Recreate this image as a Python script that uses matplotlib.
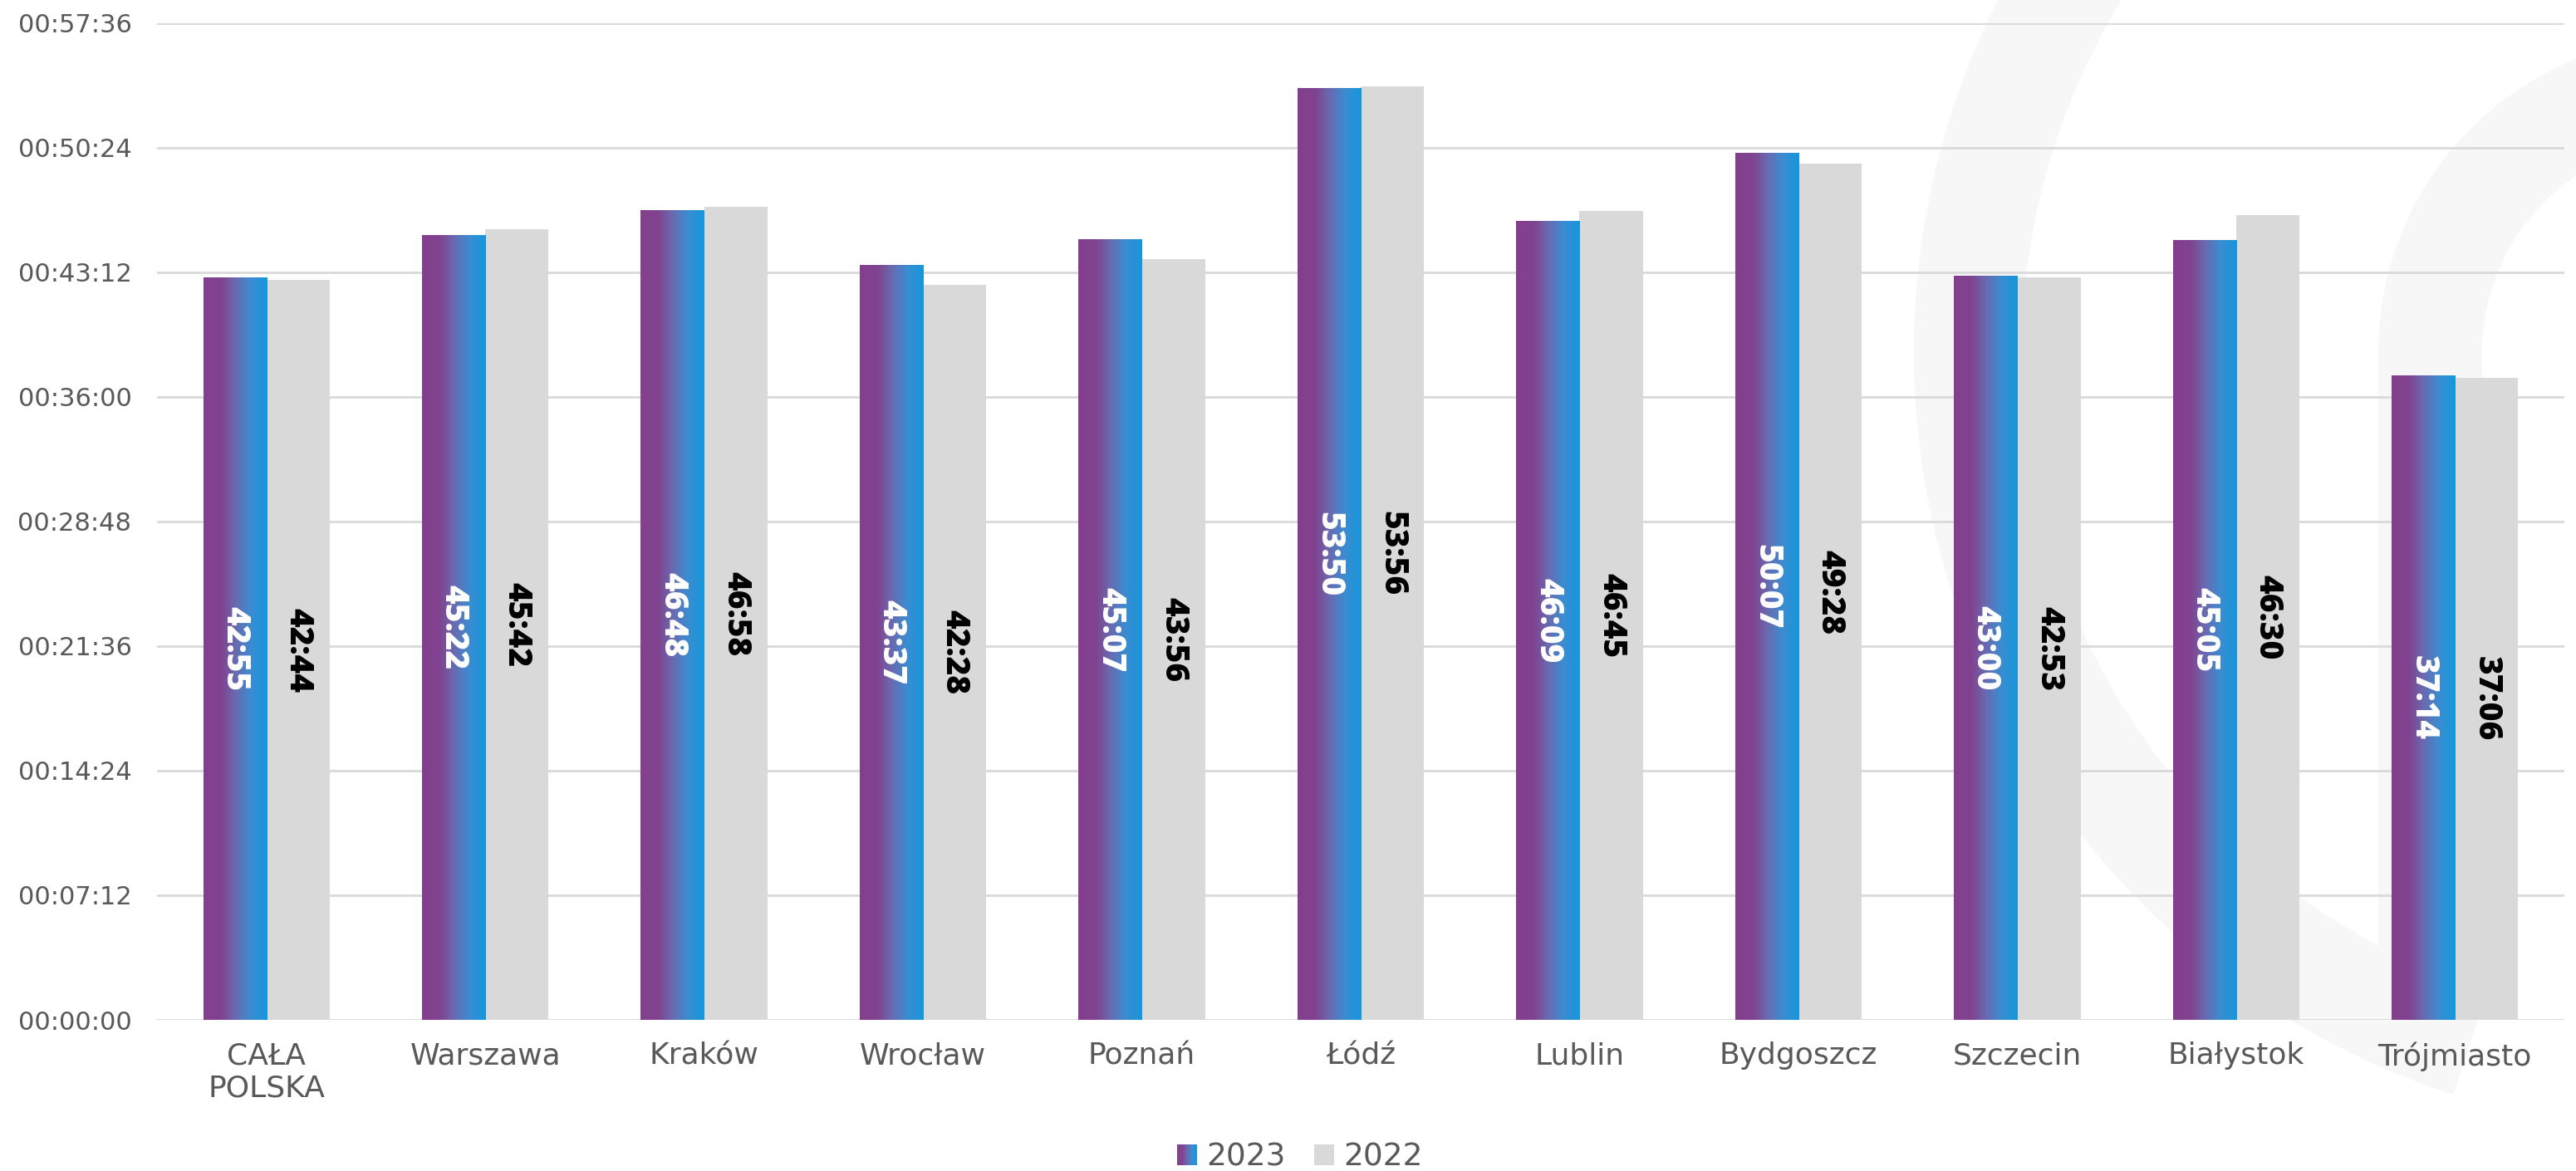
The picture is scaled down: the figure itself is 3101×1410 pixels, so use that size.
import matplotlib

matplotlib.use("Agg")

import matplotlib.pyplot as plt
import numpy as np
from matplotlib.colors import LinearSegmentedColormap
from matplotlib.legend_handler import HandlerBase
from matplotlib.patches import Rectangle, Wedge
from matplotlib.ticker import FixedLocator, FuncFormatter

plt.rcParams["font.family"] = ["DejaVu Sans"]

cities = [
    "CAŁA\nPOLSKA", "Warszawa", "Kraków", "Wrocław", "Poznań", "Łódź",
    "Lublin", "Bydgoszcz", "Szczecin", "Białystok", "Trójmiasto",
]
times_2023 = ["42:55", "45:22", "46:48", "43:37", "45:07", "53:50",
              "46:09", "50:07", "43:00", "45:05", "37:14"]
times_2022 = ["42:44", "45:42", "46:58", "42:28", "43:56", "53:56",
              "46:45", "49:28", "42:53", "46:30", "37:06"]
series_names = ["2023", "2022"]

GRAD_COLORS = [(0.0, "#843F8E"), (0.28, "#80438F"), (0.5, "#6A6AB0"),
               (0.75, "#3A8DD2"), (1.0, "#1597DB")]
GREY_BAR = "#D9D9D9"
TEXT_GREY = "#595959"
GRID = "#D9D9D9"
RING = "#F7F7F7"

grad_cmap = LinearSegmentedColormap.from_list("purple_blue", GRAD_COLORS)


def to_seconds(mmss):
    m, s = mmss.split(":")
    return int(m) * 60 + int(s)


def fmt_hms(value, _pos=None):
    value = int(round(value))
    return f"{value // 3600:02d}:{value % 3600 // 60:02d}:{value % 60:02d}"


def fmt_ms(value):
    value = int(round(value))
    return f"{value // 60:02d}:{value % 60:02d}"


class GradientHandler(HandlerBase):
    def create_artists(self, legend, orig_handle, xdescent, ydescent,
                       width, height, fontsize, trans):
        n = 24
        step = width / n
        parts = []
        for k in range(n):
            r = Rectangle((-xdescent + k * step, -ydescent), step * 1.05, height,
                          facecolor=grad_cmap((k + 0.5) / n), edgecolor="none",
                          transform=trans)
            parts.append(r)
        return parts


vals_2023 = np.array([to_seconds(t) for t in times_2023])
vals_2022 = np.array([to_seconds(t) for t in times_2022])
x = np.arange(len(cities))
bar_w = 0.289

W, H = 3101, 1410
fig = plt.figure(figsize=(W / 100, H / 100), dpi=100)
fig.patch.set_facecolor("white")

# pale logo rings behind the plot (pixel coordinates, origin bottom-left)
ring_cx, ring_cy = 3244, H - 424
fig.patches.append(Wedge((ring_cx, ring_cy), 940, 105, 252, width=130,
                         facecolor=RING, edgecolor="none", transform=None, zorder=-2))
fig.patches.append(Wedge((ring_cx, ring_cy), 381, 95, 180, width=125,
                         facecolor=RING, edgecolor="none", transform=None, zorder=-2))
fig.patches.append(Rectangle((2863, H - 1200), 125, 1200 - 424, facecolor=RING,
                             edgecolor="none", transform=None, zorder=-2))

ax = fig.add_axes([189 / W, 1 - 1228 / H, (3087 - 189) / W, (1228 - 27.7) / H])
ax.set_facecolor("none")
ax.set_zorder(1)

bars_a = ax.bar(x - bar_w / 2, vals_2023, width=bar_w, facecolor="none",
                edgecolor="none", zorder=3, label=series_names[0])
bars_b = ax.bar(x + bar_w / 2, vals_2022, width=bar_w, color=GREY_BAR,
                edgecolor="none", zorder=3, label=series_names[1])

gradient = np.linspace(0, 1, 256).reshape(1, -1)
for bar in bars_a:
    x0 = bar.get_x()
    img = ax.imshow(gradient, cmap=grad_cmap, aspect="auto", zorder=3,
                    extent=[x0, x0 + bar.get_width(), 0, bar.get_height()],
                    interpolation="bicubic")
    img.set_clip_path(bar)

label_font = dict(fontsize=28, fontweight=800, rotation=270,
                  ha="center", va="center", zorder=5, family=["Open Sans", "DejaVu Sans"])
for bar, v in zip(bars_a, vals_2023):
    ax.text(bar.get_x() + bar.get_width() / 2, v / 2, fmt_ms(v), color="white", **label_font)
for bar, v in zip(bars_b, vals_2022):
    ax.text(bar.get_x() + bar.get_width() / 2, v / 2, fmt_ms(v), color="black", **label_font)

ax.set_xlim(-0.5, len(cities) - 0.5)
ax.set_ylim(0, 3456)
ax.yaxis.set_major_locator(FixedLocator(np.arange(0, 3456 + 1, 432)))
ax.yaxis.set_major_formatter(FuncFormatter(fmt_hms))
ax.set_xticks(x)
ax.set_xticklabels(cities, linespacing=1.2)
ax.tick_params(axis="x", length=0, pad=19, labelsize=26, labelcolor=TEXT_GREY)
ax.tick_params(axis="y", length=0, pad=22, labelsize=22, labelcolor=TEXT_GREY)

ax.grid(axis="y", color=GRID, linewidth=2, zorder=0)
ax.set_axisbelow(True)
for side in ax.spines.values():
    side.set_visible(False)

handles = [Rectangle((0, 0), 1, 1), bars_b[0]]
leg = fig.legend(handles, series_names, loc="center", bbox_to_anchor=(1565 / W, 1 - 1394 / H),
                 ncol=2, frameon=False, fontsize=27, handlelength=0.64, handleheight=0.64,
                 handletextpad=0.3, columnspacing=0.9, borderpad=0,
                 handler_map={handles[0]: GradientHandler()})
for t in leg.get_texts():
    t.set_color(TEXT_GREY)

fig.savefig("out.png", dpi=100, facecolor="white")
